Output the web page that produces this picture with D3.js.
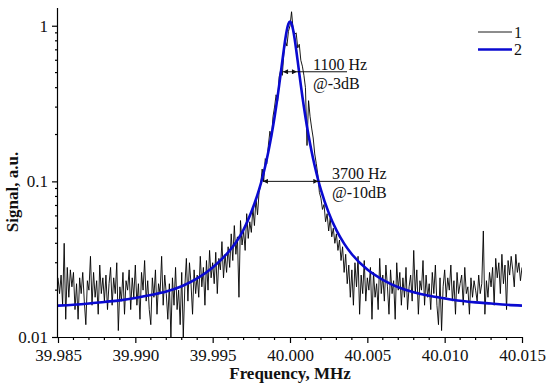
<!DOCTYPE html>
<html lang="en">
  <head>
    <meta charset="UTF-8">
    <title>Signal vs Frequency</title>
    <style>
      body { margin: 0; background: #fff; }
      svg { font-family: "Liberation Serif", "Times New Roman", serif; }
      .axis path, .axis line { stroke: #000; stroke-width: 1.2px; }
      .title { font-size: 17px; font-weight: bold; fill: #111; }
      .note { font-size: 16px; fill: #111; }
      .signal { fill: none; stroke: #000; stroke-width: 0.9px; }
      .fit { fill: none; stroke: #0a0ad0; stroke-width: 2.6px; }
    </style>
  </head>
  <body>
    <script src="https://d3js.org/d3.v7.min.js"></script>
    <script>
      // measured trace (1): frequency grid start/step in MHz, one value per step
      const freqStart = 39.985;
      const freqStep = 0.0001;
      const signalValues = [
        .024, .019, .025, .016, .040, .013, .028, .018, .027, .021,
        .026, .015, .022, .013, .024, .019, .026, .017, .012, .023,
        .020, .033, .016, .026, .018, .023, .014, .029, .019, .024,
        .017, .025, .015, .022, .028, .016, .024, .019, .030, .011,
        .021, .017, .026, .014, .023, .020, .027, .015, .024, .018,
        .029, .016, .022, .013, .026, .020, .031, .017, .023, .015,
        .012, .024, .018, .027, .014, .022, .019, .033, .016, .025,
        .019, .013, .022, .010, .024, .016, .028, .015, .020, .012,
        .026, .010, .021, .032, .017, .030, .022, .014, .027, .019,
        .025, .018, .033, .021, .028, .016, .031, .020, .036, .024,
        .030, .022, .035, .019, .032, .027, .041, .024, .034, .026,
        .038, .028, .046, .031, .052, .034, .044, .018, .056, .039,
        .048, .036, .062, .043, .055, .047, .068, .052, .078, .061,
        .085, .095, .120, .100, .140, .130, .170, .210, .190, .260,
        .300, .360, .330, .470, .520, .480, .660, .800, .740, .920,
        1.00, 1.23, .950, .880, .900, .720, .760, .600, .550, .480,
        .400, .170, .330, .260, .220, .190, .150, .130, .110, .085,
        .078, .066, .071, .055, .062, .048, .058, .044, .050, .040,
        .046, .036, .042, .031, .038, .026, .034, .022, .029, .018,
        .027, .016, .030, .021, .033, .014, .025, .019, .031, .017,
        .024, .020, .028, .013, .026, .018, .022, .015, .032, .019,
        .025, .017, .029, .021, .014, .027, .019, .023, .013, .030,
        .020, .026, .016, .024, .018, .028, .015, .021, .025, .017,
        .036, .019, .027, .014, .023, .020, .031, .016, .025, .018,
        .022, .015, .026, .019, .029, .016, .012, .024, .011, .021,
        .027, .018, .024, .020, .029, .017, .023, .014, .026, .019,
        .022, .025, .016, .028, .019, .021, .014, .024, .018, .023,
        .020, .017, .025, .019, .022, .048, .014, .023, .018, .026,
        .021, .028, .016, .032, .024, .030, .019, .034, .022, .029,
        .015, .031, .025, .033, .027, .021, .034, .026, .030, .023,
        .028
      ];

      // fitted curve (2): offsets from 40 MHz in kHz and values
      const fitOffsets = [-15, -14, -13, -12, -11, -10, -9, -8, -7, -6, -5, -4, -3.5, -3, -2.5, -2, -1.8, -1.6, -1.4, -1.2, -1, -0.9, -0.8, -0.7, -0.6, -0.5, -0.4, -0.3, -0.2, -0.1, 0,
                          0.1, 0.2, 0.3, 0.4, 0.5, 0.6, 0.7, 0.8, 0.9, 1, 1.2, 1.4, 1.6, 1.8, 2, 2.5, 3, 3.5, 4, 5, 6, 7, 8, 9, 10, 11, 12, 13, 14, 15];
      const fitValues = [.0159, .0161, .0164, .0168, .0172, .0178, .0186, .0196, .0212, .0238, .0280, .0350, .0405, .0490, .0635, .0885, .104, .1255, .155, .197, .258, .300, .351, .415, .494, .590, .701, .824, .942, 1.031, 1.064,
                         1.031, .942, .824, .701, .590, .494, .415, .351, .300, .258, .197, .155, .1255, .104, .0883, .0630, .0486, .0398, .0340, .0271, .0233, .0209, .0194, .0184, .0177, .0171, .0167, .0164, .0161, .0159];

      const yTickValues = [0.01, 0.1, 1];
      const yTickLabels = ["0.01", "0.1", "1"];
      const xTickValues = [39.985, 39.990, 39.995, 40.000, 40.005, 40.010, 40.015];
      const seriesNames = ["1", "2"];

      const W = 550, H = 387;
      const mLeft = 58, mRight = 522, mTop = 8, mBottom = 337;
      const serif = '"Liberation Serif", "Times New Roman", serif';

      const svg = d3.select("body").append("svg")
        .attr("width", W)
        .attr("height", H);

      const x = d3.scaleLinear().domain([39.985, 40.015]).range([mLeft, mRight]);
      const y = d3.scaleLog().domain([0.01, 1.3]).range([mBottom, mTop]);

      const defs = svg.append("defs");
      defs.append("clipPath").attr("id", "plot")
        .append("rect").attr("x", mLeft).attr("y", mTop).attr("width", mRight - mLeft).attr("height", mBottom - mTop);

      // arrow heads for the width markers
      ["start", "end"].forEach(k => {
        defs.append("marker")
          .attr("id", "arr-" + k)
          .attr("viewBox", "0 -5 10 10")
          .attr("refX", 10).attr("refY", 0)
          .attr("markerWidth", 7).attr("markerHeight", 5)
          .attr("markerUnits", "userSpaceOnUse")
          .attr("orient", k === "start" ? "auto-start-reverse" : "auto")
          .append("path").attr("d", "M0,-5L10,0L0,5Z").attr("fill", "#111");
      });

      const signal = signalValues.map((v, i) => ({ f: freqStart + i * freqStep, v }));
      const fit = fitOffsets.map((o, i) => ({ f: 40 + o / 1000, v: fitValues[i] }));

      const line = d3.line().x(d => x(d.f)).y(d => y(d.v));

      const plot = svg.append("g").attr("clip-path", "url(#plot)");
      plot.append("path").datum(signal).attr("class", "signal").attr("d", line);
      plot.append("path").datum(fit).attr("class", "fit")
        .attr("d", line.curve(d3.curveMonotoneX));

      // axes
      const xAxis = d3.axisBottom(x)
        .tickValues(xTickValues)
        .tickFormat(d3.format(".3f"))
        .tickSize(6).tickPadding(6);
      const gx = svg.append("g").attr("class", "axis").attr("transform", `translate(0,${mBottom})`).call(xAxis);
      gx.select(".domain").attr("d", `M${mLeft},0.5H${mRight}`);
      gx.selectAll(".minor").data(d3.range(0, 31).filter(i => i % 5 !== 0).map(i => 39.985 + i * 0.001))
        .enter().append("line").attr("class", "minor")
        .attr("x1", d => x(d)).attr("x2", d => x(d)).attr("y1", 0).attr("y2", 3);

      const yAxis = d3.axisLeft(y)
        .tickValues(yTickValues)
        .tickFormat((d, i) => yTickLabels[i])
        .tickSize(6).tickPadding(4);
      const gy = svg.append("g").attr("class", "axis").attr("transform", `translate(${mLeft},0)`).call(yAxis);
      gy.select(".domain").attr("d", `M-0.5,${mTop}V${mBottom}`);
      gy.selectAll(".minor").data(y.ticks().filter(t => !yTickValues.some(m => Math.abs(m - t) < 1e-9)))
        .enter().append("line").attr("class", "minor")
        .attr("x1", 0).attr("x2", -3).attr("y1", d => y(d)).attr("y2", d => y(d));

      [gx, gy].forEach(g => {
        g.attr("font-family", serif).attr("font-size", 17);
        g.selectAll("text").style("font-family", serif).style("font-size", "17px").attr("fill", "#111");
      });

      // axis titles
      svg.append("text").attr("class", "title")
        .attr("x", (mLeft + mRight) / 2).attr("y", 379).attr("text-anchor", "middle")
        .text("Frequency, MHz");
      svg.append("text").attr("class", "title")
        .attr("transform", `translate(18,192) rotate(-90)`).attr("text-anchor", "middle")
        .text("Signal, a.u.");

      // width annotations
      const notes = [
        { f0: 39.99955, f1: 40.00045, lvl: 0.506, lineEnd: 347, label: "1100 Hz", sub: "@-3dB", tx: 313 },
        { f0: 39.99825, f1: 40.00183, lvl: 0.1, lineEnd: 370, label: "3700 Hz", sub: "@-10dB", tx: 332 }
      ];
      notes.forEach(n => {
        const yy = y(n.lvl);
        svg.append("line").attr("x1", x(n.f0)).attr("x2", x(n.f1)).attr("y1", yy).attr("y2", yy)
          .attr("stroke", "#111").attr("stroke-width", 1)
          .attr("marker-start", "url(#arr-start)").attr("marker-end", "url(#arr-end)");
        svg.append("line").attr("x1", x(n.f1)).attr("x2", n.lineEnd).attr("y1", yy).attr("y2", yy)
          .attr("stroke", "#111").attr("stroke-width", 1);
        svg.append("text").attr("class", "note").attr("x", n.tx).attr("y", yy - 2).text(n.label);
        svg.append("text").attr("class", "note").attr("x", n.tx).attr("y", yy + 17).text(n.sub);
      });

      // legend
      const legend = svg.append("g");
      seriesNames.forEach((name, i) => {
        const ly = 32 + i * 17.5;
        legend.append("line").attr("x1", 478).attr("x2", 512).attr("y1", ly).attr("y2", ly)
          .attr("class", i === 0 ? "signal" : "fit");
        legend.append("text").attr("class", "note").attr("x", 514).attr("y", ly + 5.5).text(name);
      });
    </script>
  </body>
</html>
